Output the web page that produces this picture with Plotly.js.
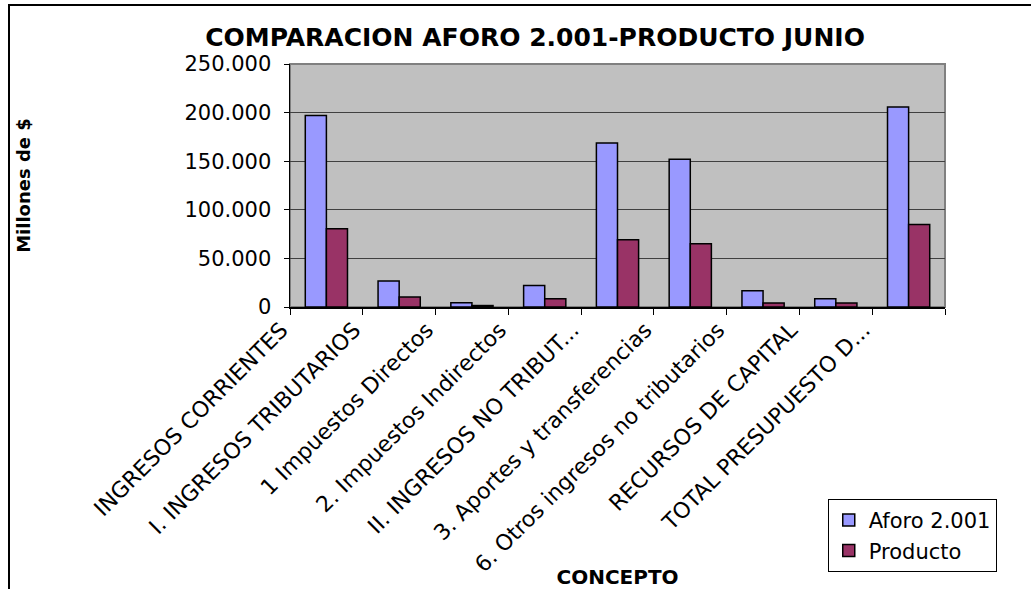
<!DOCTYPE html>
<html>
<head>
<meta charset="utf-8">
<script src="https://cdn.plot.ly/plotly-3.0.1.min.js"></script>
<style>
  html, body { margin: 0; padding: 0; background: #fff; }
  #chart { width: 1031px; height: 589px; position: relative; }
  #frame { position: absolute; left: 8px; top: 4px; width: 1100px; height: 700px;
           border-left: 2px solid #000; border-top: 2px solid #000; pointer-events: none; }
</style>
</head>
<body>
<div id="chart"></div>
<div id="frame"></div>
<script>
const categories = [
  "INGRESOS CORRIENTES",
  "I. INGRESOS TRIBUTARIOS",
  "1 Impuestos Directos",
  "2. Impuestos Indirectos",
  "II. INGRESOS NO TRIBUT...",
  "3. Aportes y transferencias",
  "6. Otros ingresos no tributarios",
  "RECURSOS DE CAPITAL",
  "TOTAL PRESUPUESTO D..."
];
const aforo = [197100, 26800, 4400, 22200, 168800, 151900, 16800, 8500, 205800];
const producto = [80500, 10300, 1500, 8500, 69300, 65100, 4100, 4100, 85000];
const yTicks = [0, 50000, 100000, 150000, 200000, 250000];

const traces = [
  { type: 'bar', name: 'Aforo 2.001', x: categories, y: aforo,
    marker: { color: '#9999FF', line: { color: '#000000', width: 1.5 } } },
  { type: 'bar', name: 'Producto', x: categories, y: producto,
    marker: { color: '#993366', line: { color: '#000000', width: 1.5 } } }
];

const layout = {
  width: 1031, height: 589,
  margin: { l: 290, r: 86, t: 64, b: 282 },
  paper_bgcolor: '#ffffff',
  plot_bgcolor: '#C0C0C0',
  separators: ',.',
  barmode: 'group',
  bargap: 0.42,
  bargroupgap: 0,
  font: { family: 'DejaVu Sans, sans-serif', color: '#000' },
  title: { text: 'COMPARACION AFORO 2.001-PRODUCTO JUNIO',
    font: { family: 'DejaVu Sans, sans-serif', size: 25, weight: 'bold', color: '#000' },
    xref: 'container', yref: 'container', x: 0.519, xanchor: 'center', y: 0.937, yanchor: 'middle' },
  xaxis: {
    type: 'category',
    tickangle: -45,
    tickson: 'boundaries',
    ticks: 'outside', ticklen: 6, tickcolor: '#000', tickwidth: 1,
    showline: true, linecolor: '#000', linewidth: 1.5,
    showgrid: false,
    ticklabelshift: -45,
    tickfont: { size: 22, family: 'DejaVu Sans, sans-serif' },
    automargin: false,
    title: { text: 'CONCEPTO', standoff: 8,
      font: { size: 20, weight: 'bold', family: 'DejaVu Sans, sans-serif' } }
  },
  yaxis: {
    range: [0, 250000],
    tickvals: yTicks,
    tickformat: ',d',
    ticks: 'outside', ticklen: 5, tickcolor: '#000',
    ticklabelstandoff: 8,
    showline: true, linecolor: '#000', linewidth: 1.5,
    showgrid: true, gridcolor: '#404040', gridwidth: 1,
    zeroline: false,
    tickfont: { size: 21, family: 'DejaVu Sans, sans-serif' },
    automargin: false,
    title: { text: 'Millones de $', standoff: 149,
      font: { size: 18, weight: 'bold', family: 'DejaVu Sans, sans-serif' } }
  },
  legend: {
    x: 0.821, xanchor: 'left', y: -0.79, yanchor: 'top',
    bgcolor: '#ffffff', bordercolor: '#000', borderwidth: 1,
    font: { size: 21, family: 'DejaVu Sans, sans-serif' },
    traceorder: 'normal'
  },
  shapes: [
    { type: 'rect', xref: 'paper', yref: 'paper', x0: 0, x1: 1, y0: 0, y1: 1,
      line: { color: '#808080', width: 2 }, fillcolor: 'rgba(0,0,0,0)', layer: 'below' }
  ],
  showlegend: true
};

Plotly.newPlot('chart', traces, layout, { displayModeBar: false, staticPlot: true });
</script>
</body>
</html>
